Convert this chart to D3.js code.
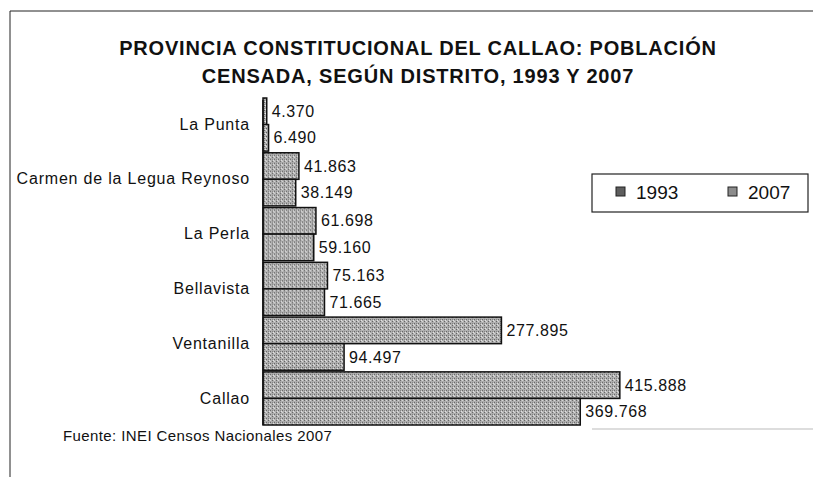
<!DOCTYPE html>
<html lang="es">
<head>
<meta charset="UTF-8">
<title>Callao: población censada 1993 y 2007</title>
<script src="https://d3js.org/d3.v7.min.js"></script>
<style>
    body { margin: 0; background: #fff; }
    svg { display: block; font-family: "Liberation Sans", Arial, sans-serif; }
</style>
</head>
<body>
<script>
// district names, top to bottom
const distritos = ["La Punta", "Carmen de la Legua Reynoso", "La Perla", "Bellavista", "Ventanilla", "Callao"];
// values drawn in the upper bar of each pair
const valores2007 = [4370, 41863, 61698, 75163, 277895, 415888];
// values drawn in the lower bar of each pair
const valores1993 = [6490, 38149, 59160, 71665, 94497, 369768];
const series = ["2007", "1993"];
const leyenda = ["1993", "2007"];

const width = 813, height = 477;
const svg = d3.select("body").append("svg")
    .attr("width", width)
    .attr("height", height);

// dithered grey fill like the printed chart
const defs = svg.append("defs");
const pat = defs.append("pattern")
    .attr("id", "gris")
    .attr("width", 4).attr("height", 4)
    .attr("patternUnits", "userSpaceOnUse");
pat.append("rect").attr("width", 4).attr("height", 4).attr("fill", "#b0b0b0");
pat.append("rect").attr("x", 0).attr("y", 0).attr("width", 1).attr("height", 1).attr("fill", "#5e5e5e");
pat.append("rect").attr("x", 2).attr("y", 2).attr("width", 1).attr("height", 1).attr("fill", "#5e5e5e");
pat.append("rect").attr("x", 2).attr("y", 0).attr("width", 1).attr("height", 1).attr("fill", "#dcdcdc");
pat.append("rect").attr("x", 0).attr("y", 2).attr("width", 1).attr("height", 1).attr("fill", "#808080");
pat.append("rect").attr("x", 1).attr("y", 3).attr("width", 1).attr("height", 1).attr("fill", "#e8e8e8");

// frame of the scanned page
svg.append("line").attr("x1", 10).attr("x2", width).attr("y1", 11).attr("y2", 11)
    .attr("stroke", "#222").attr("stroke-width", 1);
svg.append("line").attr("x1", 10).attr("x2", 10).attr("y1", 11).attr("y2", height)
    .attr("stroke", "#222").attr("stroke-width", 1);

// title
const title = svg.append("text")
    .attr("text-anchor", "middle")
    .attr("font-size", 20)
    .attr("font-weight", "bold")
    .attr("letter-spacing", 0.8)
    .attr("fill", "#111");
title.append("tspan").attr("x", 418).attr("y", 55).text("PROVINCIA CONSTITUCIONAL DEL CALLAO: POBLACIÓN");
title.append("tspan").attr("x", 418).attr("y", 83).text("CENSADA, SEGÚN DISTRITO, 1993 Y 2007");

const x = d3.scaleLinear().domain([0, 500000]).range([263, 692]);
const y = d3.scaleBand().domain(distritos).range([98, 425]).paddingInner(0.03);
const y1 = d3.scaleBand().domain(series).range([0, y.bandwidth()]);

const rows = distritos.map((d, i) => ({
    distrito: d,
    vals: [{ s: "2007", v: valores2007[i] }, { s: "1993", v: valores1993[i] }]
}));

const g = svg.append("g");
const grupos = g.selectAll("g.grupo")
    .data(rows)
    .join("g")
    .attr("class", "grupo")
    .attr("transform", d => `translate(0,${y(d.distrito)})`);

grupos.selectAll("rect")
    .data(d => d.vals)
    .join("rect")
    .attr("x", x(0))
    .attr("y", d => y1(d.s))
    .attr("width", d => x(d.v) - x(0))
    .attr("height", y1.bandwidth())
    .attr("fill", "url(#gris)")
    .attr("stroke", "#111")
    .attr("stroke-width", 1.5);

const fmt = v => d3.format(",")(v).replace(/,/g, ".");
grupos.selectAll("text")
    .data(d => d.vals)
    .join("text")
    .attr("x", d => x(d.v) + 5)
    .attr("y", d => y1(d.s) + y1.bandwidth() / 2)
    .attr("dy", "0.35em")
    .attr("font-size", 16)
    .attr("letter-spacing", 0.6)
    .attr("fill", "#111")
    .text(d => fmt(d.v));

// category axis
const yAxis = d3.axisLeft(y).tickSize(0).tickPadding(13);
const ax = svg.append("g")
    .attr("transform", `translate(${x(0)},0)`)
    .call(yAxis);
ax.select(".domain").attr("stroke", "#111").attr("stroke-width", 1.5)
    .attr("d", `M0,${y.range()[0] + 2}V${y.range()[1]}`);
ax.selectAll("text")
    .attr("font-size", 16)
    .attr("letter-spacing", 0.8)
    .attr("fill", "#111")
    .attr("font-family", "Liberation Sans, Arial, sans-serif");

// legend
const lg = svg.append("g");
lg.append("rect").attr("x", 592).attr("y", 174).attr("width", 216).attr("height", 38)
    .attr("fill", "#fff").attr("stroke", "#222").attr("stroke-width", 1.2);
const lx = d3.scalePoint().domain(leyenda).range([616, 728]);
lg.selectAll("rect.sw")
    .data(leyenda)
    .join("rect")
    .attr("class", "sw")
    .attr("x", d => lx(d))
    .attr("y", 187)
    .attr("width", 9).attr("height", 9)
    .attr("fill", d => d === "1993" ? "#5e5e5e" : "#8c8c8c")
    .attr("stroke", "#222").attr("stroke-width", 1);
lg.selectAll("text")
    .data(leyenda)
    .join("text")
    .attr("x", d => lx(d) + 20)
    .attr("y", 192)
    .attr("dy", "0.35em")
    .attr("font-size", 19)
    .attr("fill", "#111")
    .text(d => d);

// source
svg.append("text")
    .attr("x", 63).attr("y", 441)
    .attr("font-size", 15)
    .attr("letter-spacing", 0.4)
    .attr("fill", "#111")
    .text("Fuente: INEI Censos Nacionales 2007");

svg.append("line").attr("x1", 592).attr("x2", width).attr("y1", 429).attr("y2", 429)
    .attr("stroke", "#bbb").attr("stroke-width", 1);
</script>
</body>
</html>
